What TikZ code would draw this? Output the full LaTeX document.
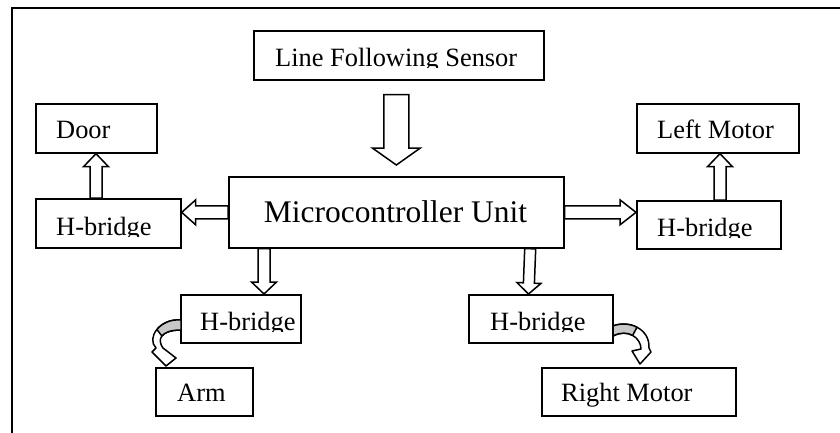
\documentclass[tikz,border=0pt]{standalone}
\usepackage{fontspec}
\setmainfont{Liberation Serif}
\usetikzlibrary{calc}
\definecolor{foldgrey}{RGB}{200,200,200}

% straight block arrow: #1 start, #2 tip, #3 half shaft, #4 half head, #5 head length
\newcommand\blockarr[5]{%
  \draw[blockarrow] let \p1=#1, \p2=#2,
      \n1={atan2(\y2-\y1,\x2-\x1)}, \n2={veclen(\x2-\x1,\y2-\y1)} in
    [shift={(\p1)}, rotate=\n1]
    (0,-#3) -- (\n2-#5,-#3) -- (\n2-#5,-#4) -- (\n2,0) -- (\n2-#5,#4)
    -- (\n2-#5,#3) -- (0,#3) -- cycle;}

\begin{document}
\begin{tikzpicture}[x=1pt,y=-1pt,
  box/.style={draw, line width=1.7pt, inner sep=0pt, anchor=north west},
  lbl/.style={inner sep=0pt, anchor=base west, font=\fontsize{26.4}{30}\selectfont},
  bigl/.style={inner sep=0pt, anchor=base, font=\fontsize{31.5}{36}\selectfont},
  blockarrow/.style={draw, fill=white, line width=1.5pt, line join=miter},
  curvearrow/.style={draw, fill=white, line width=1.5pt, line join=round},
  fold/.style={draw, fill=foldgrey, line width=1.5pt, line join=round},
  frame/.style={line width=1.8pt}]
\useasboundingbox (0,0) rectangle (840,433);

% outer frame (top and left edges)
\draw[frame] (12,433) -- (12,8) -- (840,8);

% boxes
\node[box, minimum width=290pt, minimum height=49pt] (sensor) at (253,30) {};
\node[box, minimum width=335pt, minimum height=71pt] (mcu) at (228,176) {};
\node[box, minimum width=121pt, minimum height=49pt] (door) at (35,103) {};
\node[box, minimum width=145pt, minimum height=49pt] (hbl) at (35,198) {};
\node[box, minimum width=162pt, minimum height=49pt] (lmotor) at (636,103) {};
\node[box, minimum width=144pt, minimum height=48pt] (hbr) at (636,200) {};
\node[box, minimum width=120pt, minimum height=48pt] (hba) at (180,294) {};
\node[box, minimum width=97pt, minimum height=48pt] (arm) at (155,367) {};
\node[box, minimum width=144pt, minimum height=48pt] (hbm) at (468,294) {};
\node[box, minimum width=194pt, minimum height=48pt] (rmotor) at (541,367) {};

% labels (the lower line of some labels is cut by their box)
\begin{scope}
  \clip (254,31) rectangle (542,68);
  \node[lbl] (sensor-t) at (275,67) {Line Following Sensor};
\end{scope}
\node[bigl] (mcu-t) at (395.5,222) {Microcontroller Unit};
\node[lbl] (door-t) at (56,139) {Door};
\begin{scope}
  \clip (36,199) rectangle (179,236);
  \node[lbl] (hbl-t) at (56,235) {H-bridge};
\end{scope}
\node[lbl] (lmotor-t) at (657,139) {Left Motor};
\begin{scope}
  \clip (637,201) rectangle (779,237);
  \node[lbl] (hbr-t) at (657,236) {H-bridge};
\end{scope}
\begin{scope}
  \clip (181,295) rectangle (299,331);
  \node[lbl] (hba-t) at (200,330) {H-bridge};
\end{scope}
\node[lbl] (arm-t) at (177,401) {Arm};
\begin{scope}
  \clip (469,295) rectangle (611,331);
  \node[lbl] (hbm-t) at (490,330) {H-bridge};
\end{scope}
\node[lbl] (rmotor-t) at (561,401) {Right Motor};

% straight block arrows
\blockarr{($(sensor.south)+(-2.5,14)$)}{($(mcu.north)+(0,-11)$)}{12.5}{24}{17}
\blockarr{(mcu.west)}{(hbl.east |- mcu.west)}{6.5}{12.5}{14}
\blockarr{(mcu.east)}{(hbr.west |- mcu.east)}{6.5}{12.5}{16}
\blockarr{($(hbl.north west)+(61,0)$)}{($(door.south west)+(61,0)$)}{6}{12.5}{13}
\blockarr{($(hbr.north west)+(84,0)$)}{($(lmotor.south west)+(84,0)$)}{6}{12.5}{13}
\blockarr{($(mcu.south west)+(36,0)$)}{($(hba.north west)+(84,0)$)}{6}{12.5}{12}
\blockarr{($(mcu.south east)+(-34.5,0)$)}{($(hbm.north west)+(60.5,0)$)}{5.5}{12}{11}

% curved arrow from the arm H-bridge down to the arm
\draw[curvearrow] (181,320) .. controls (160,318) and (146,338) .. (156,348)
  -- (152,352) -- (166,366) -- (176,358) -- (163,348)
  .. controls (157,340) and (160,330) .. (181,330) -- cycle;
\draw[fold] (181,320) .. controls (170.5,319) and (161.75,323.5) .. (156.9,329.5)
  -- (161.9,336) .. controls (164.5,332.5) and (170.5,330) .. (181,330) -- cycle;

% curved arrow from the motor H-bridge down to the right motor
\draw[curvearrow] (613,326) .. controls (628,320) and (650,328) .. (649,348)
  -- (651,352) -- (640,364) -- (632,351) -- (641,349)
  .. controls (641,338) and (628,328) .. (613,336) -- cycle;
\draw[fold] (613,326) .. controls (620.5,323) and (629.75,323.5) .. (637,327.25)
  -- (632.6,335.4) .. controls (627.5,332.5) and (620.5,332) .. (613,336) -- cycle;
\end{tikzpicture}
\end{document}
